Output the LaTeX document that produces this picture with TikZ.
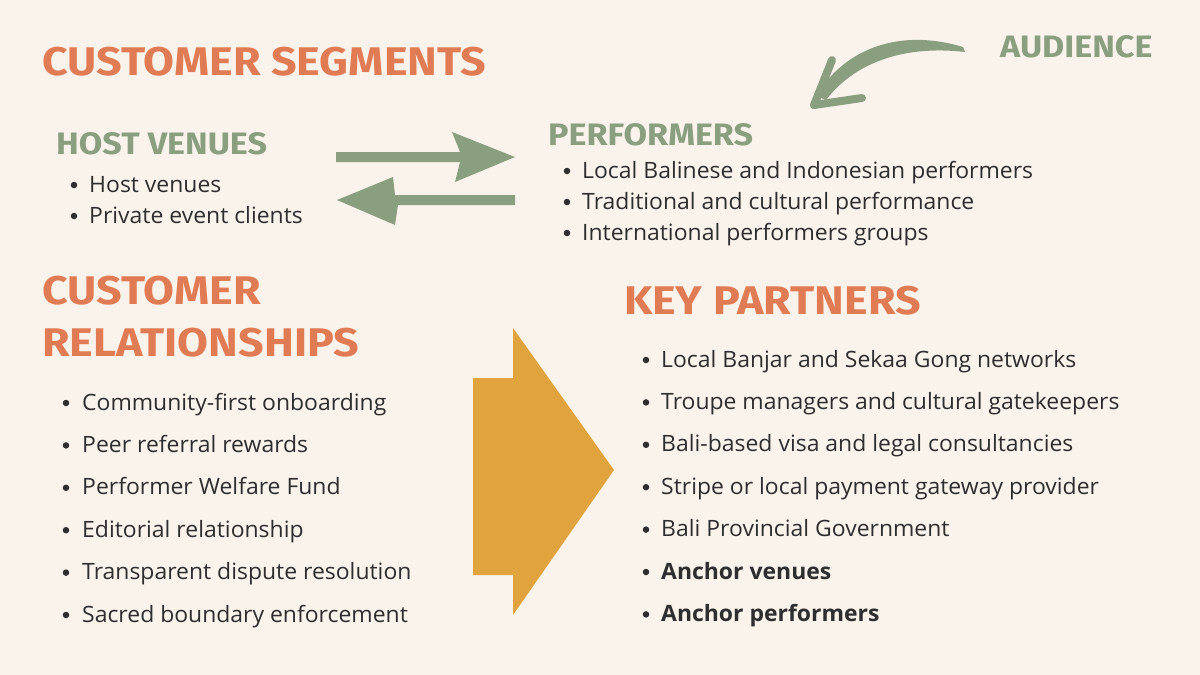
\documentclass[tikz,border=0pt]{standalone}
\usepackage{fontspec}
\setmainfont{Open Sans}
\newfontfamily\headf{Fira Sans}[UprightFont=* Bold]
\definecolor{bg}{HTML}{FAF3EC}
\definecolor{org}{HTML}{E07B53}
\definecolor{grn}{HTML}{8A9E80}
\definecolor{gold}{HTML}{E0A33E}
\definecolor{txt}{HTML}{2E2E2E}
\begin{document}
\begin{tikzpicture}[x=1pt,y=-1pt,
  big/.style={anchor=base west,inner sep=0pt,text=org,font=\headf\fontsize{40}{40}\selectfont,xscale=1.12},
  mid/.style={anchor=base west,inner sep=0pt,text=grn,font=\headf\fontsize{31}{31}\selectfont,xscale=1.1},
  item/.style={anchor=base west,inner sep=0pt,text=txt,font=\fontsize{22.5}{22.5}\selectfont,xscale=1.02},
  dot/.style={circle,fill=txt,inner sep=0pt,minimum size=6.5pt}]
\fill[bg] (0,0) rectangle (1200,675);
\useasboundingbox (0,0) rectangle (1200,675);
\node[big] (cs) at (42,75) {CUSTOMER SEGMENTS};
\node[mid] (hv) at (56,154) {HOST VENUES};
\node[mid] (au) at (1000,57) {AUDIENCE};
\node[mid] (pf) at (548,145) {PERFORMERS};
\node[big] (cr1) at (42,304) {CUSTOMER};
\node[big] (cr2) at (42,356) {RELATIONSHIPS};
\node[big] (kp) at (624,314) {KEY PARTNERS};
\foreach \t [count=\i] in {Host venues,Private event clients}{
  \node[dot] (hd\i) at (74,{192+31*(\i-1)-7}) {};
  \node[item] (h\i) at (89,{192+31*(\i-1)}) {\t};}
\foreach \t [count=\i] in {Local Balinese and Indonesian performers,Traditional and cultural performance,International performers groups}{
  \node[dot] (pd\i) at (567,{178+31*(\i-1)-7}) {};
  \node[item] (p\i) at (582,{178+31*(\i-1)}) {\t};}
\foreach \t [count=\i] in {Community-first onboarding,Peer referral rewards,Performer Welfare Fund,Editorial relationship,Transparent dispute resolution,Sacred boundary enforcement}{
  \node[dot] (cd\i) at (66,{410+42.4*(\i-1)-7}) {};
  \node[item] (c\i) at (82,{410+42.4*(\i-1)}) {\t};}
\foreach \t [count=\i] in {Local Banjar and Sekaa Gong networks,Troupe managers and cultural gatekeepers,Bali-based visa and legal consultancies,Stripe or local payment gateway provider,Bali Provincial Government,\textbf{Anchor venues},\textbf{Anchor performers}}{
  \node[dot] (kd\i) at (646,{367+42.4*(\i-1)-7}) {};
  \node[item] (k\i) at (661,{367+42.4*(\i-1)}) {\t};}
% exchange arrows
\coordinate (r0) at (336,157); \coordinate (r1) at (515,157);
\fill[grn] (r0)++(0,-5) -- (460,152) -- (452,132) -- (r1) -- (455,182) -- (460,162) -- (336,162) -- cycle;
\coordinate (l0) at (515,200); \coordinate (l1) at (337,200);
\fill[grn] (l0)++(0,-5) -- (395,195) -- (393,177) -- (l1) -- (395,225) -- (398,205) -- (515,205) -- cycle;
% curved arrow (tapered)
\coordinate (ct) at (963,47); \coordinate (ch) at (814,105);
\fill[grn] (ct) .. controls (900,28) and (845,48) .. (816,96)
  -- (826,100) .. controls (855,62) and (905,45) .. (965,52) -- cycle;
\draw[grn,line width=8,line cap=round,line join=round] (832,60) -- (ch) -- (862,98);
% big arrow
\fill[gold] (473,378) -- (513,378) -- (513,328) -- (614,470) -- (513,615) -- (513,575) -- (473,575) -- cycle;
\end{tikzpicture}
\end{document}
